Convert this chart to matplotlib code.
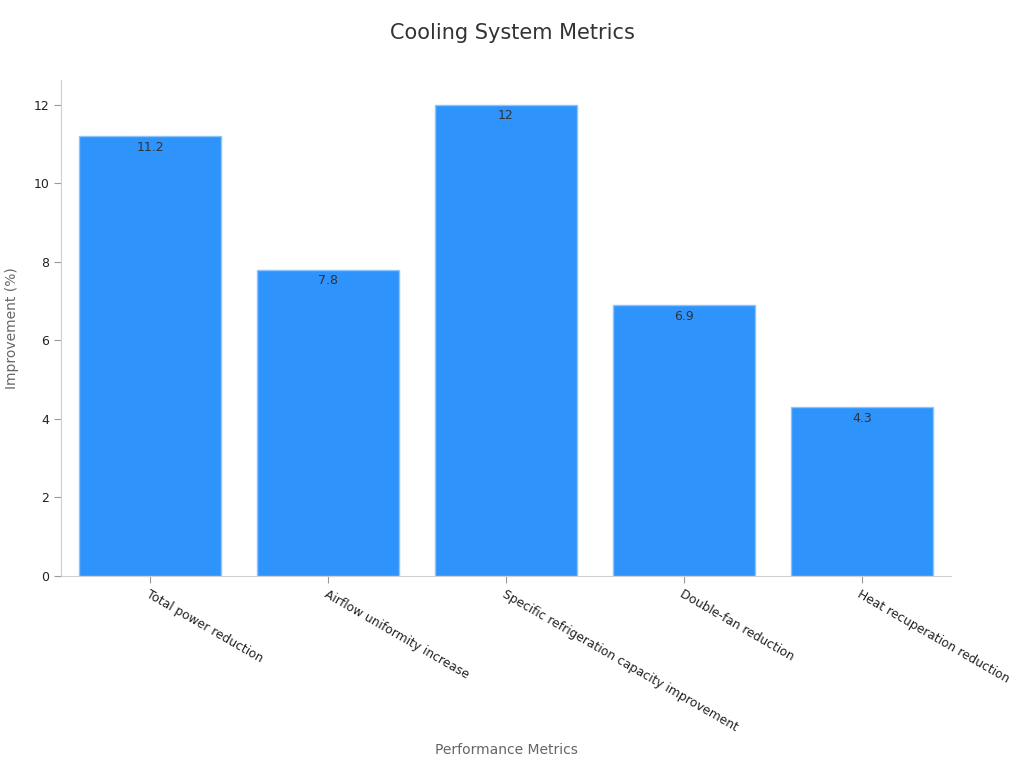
import matplotlib
matplotlib.use('Agg')
from matplotlib import pyplot as plt

categories = ['Total power reduction', 'Airflow uniformity increase',
              'Specific refrigeration capacity improvement',
              'Double-fan reduction', 'Heat recuperation reduction']
values = [11.2, 7.8, 12, 6.9, 4.3]
value_labels = ['11.2', '7.8', '12', '6.9', '4.3']

fig = plt.figure(figsize=(10.24, 7.68), dpi=100)
ax = fig.add_axes([0.0596, 0.25, 0.8691, 0.6458])

x = range(len(categories))
bars = ax.bar(x, values, width=0.8, color='#2E93FA', edgecolor='#8CC4FC', linewidth=1)
for b, lab in zip(bars, value_labels):
    ax.text(b.get_x() + b.get_width()/2, b.get_height() - 0.12, lab,
            ha='center', va='top', fontsize=9, color='#333333')

ax.set_xlim(-0.5, len(categories) - 0.5)
ax.set_ylim(0, 12.63)
ax.set_yticks([0, 2, 4, 6, 8, 10, 12])
ax.set_xticks(list(x))
ax.set_xticklabels(categories, rotation=-30, ha='left', rotation_mode='anchor',
                   fontsize=8.8, color='#222222')
ax.tick_params(axis='y', labelsize=9, colors='#222222')
ax.tick_params(color='#999999', length=5)

for s in ['top', 'right']:
    ax.spines[s].set_visible(False)
for s in ['left', 'bottom']:
    ax.spines[s].set_color('#d0d0d0')

ax.set_xlabel('Performance Metrics', fontsize=10, color='#666666')
ax.set_ylabel('Improvement (%)', fontsize=10, color='#666666')
# place axis titles where the reference has them
ax.xaxis.set_label_coords(0.5, -0.336)
ax.yaxis.set_label_coords(-0.047, 0.5)
fig.text(0.5, 0.957, 'Cooling System Metrics', ha='center', va='center',
         fontsize=15, color='#333333')

fig.savefig('out.png', dpi=100)
